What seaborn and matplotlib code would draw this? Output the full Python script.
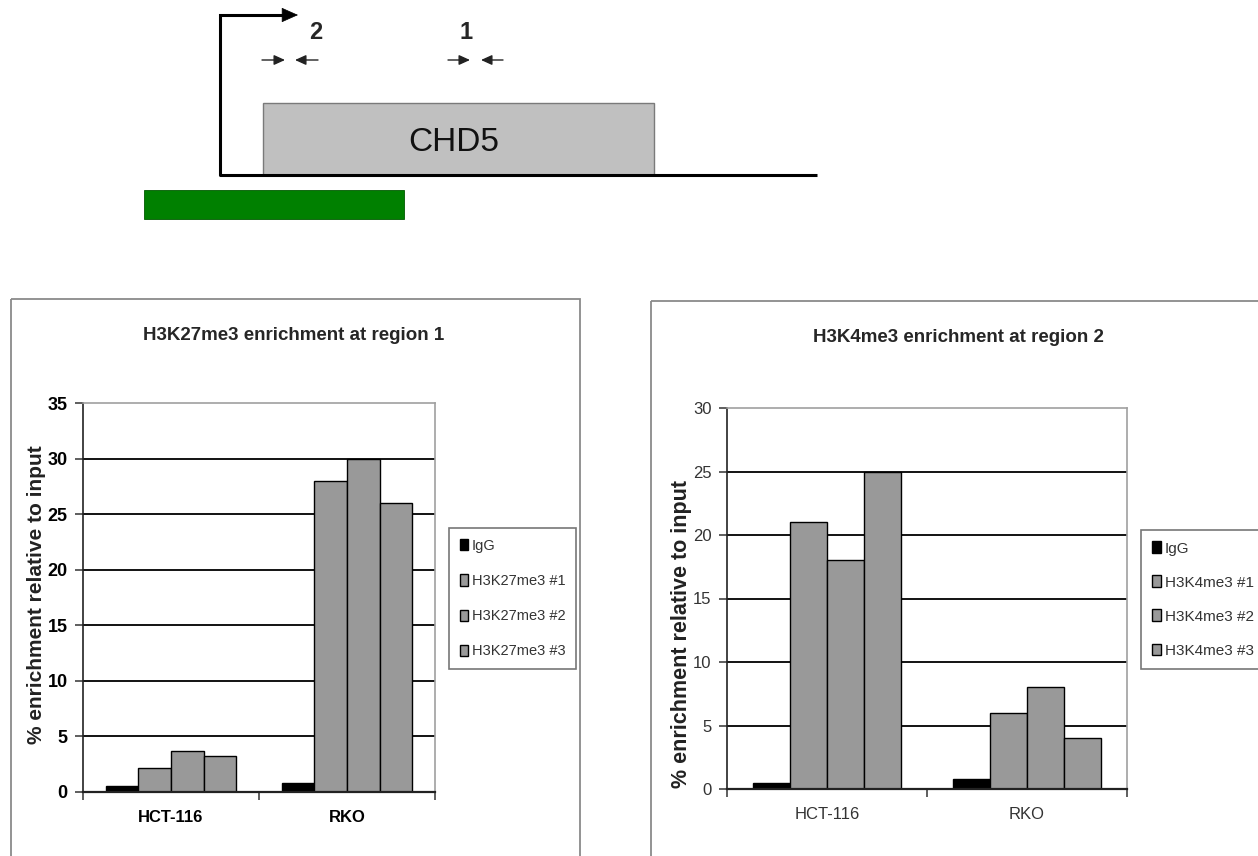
import numpy as np
import pandas as pd
import matplotlib
matplotlib.use("Agg")
import matplotlib.pyplot as plt
import seaborn as sns
from matplotlib.patches import Rectangle

# ---------------- data ----------------
cell_lines = ["HCT-116", "RKO"]

k27_series = ["IgG", "H3K27me3 #1", "H3K27me3 #2", "H3K27me3 #3"]
k27_hct116 = [0.5, 2.2, 3.7, 3.2]
k27_rko = [0.8, 28.0, 30.0, 26.0]
k27_ticks = [0, 5, 10, 15, 20, 25, 30, 35]

k4_series = ["IgG", "H3K4me3 #1", "H3K4me3 #2", "H3K4me3 #3"]
k4_hct116 = [0.45, 21.0, 18.0, 25.0]
k4_rko = [0.8, 6.0, 8.0, 4.0]
k4_ticks = [0, 5, 10, 15, 20, 25, 30]

W, H = 1258, 856

sns.set_theme(style="white")
plt.rcParams["font.family"] = ["Liberation Sans", "DejaVu Sans"]

fig = plt.figure(figsize=(W / 100, H / 100), dpi=100)
fig.patch.set_facecolor("white")

# overlay in pixel coordinates for the gene diagram and panel frames
ov = fig.add_axes([0, 0, 1, 1], zorder=0)
ov.set_xlim(0, W)
ov.set_ylim(H, 0)
ov.axis("off")

# panel frames
ov.add_patch(Rectangle((11, 299), 569, 570, fill=False, ec="#8a8a8a", lw=1.3))
ov.add_patch(Rectangle((651, 301), 620, 570, fill=False, ec="#8a8a8a", lw=1.3))

# gene diagram
ov.add_patch(Rectangle((144, 190), 260, 29, fc="#008000", ec="#005a00", lw=0.6))
ov.add_patch(Rectangle((263, 103), 391, 72, fc="#c0c0c0", ec="#7a7a7a", lw=1.0))
ov.plot([220, 817], [175, 175], color="black", lw=2.2, solid_capstyle="butt")
ov.plot([220, 220, 285], [175, 15, 15], color="black", lw=2.2, solid_joinstyle="miter")
ov.annotate("", xy=(298, 15), xytext=(280, 15),
            arrowprops=dict(arrowstyle="-|>,head_length=0.9,head_width=0.4",
                            color="black", lw=0.5, shrinkA=0, shrinkB=0))
t = ov.text(454, 142, "CHD5", ha="center", va="center", fontsize=24, color="#111111")
ov.text(316, 32, "2", ha="center", va="center", fontsize=17, fontweight="bold")
ov.text(466, 32, "1", ha="center", va="center", fontsize=17, fontweight="bold")
for (x0, x1) in [(262, 285), (318, 295), (448, 470), (503, 481)]:
    ov.annotate("", xy=(x1, 60), xytext=(x0, 60),
                arrowprops=dict(arrowstyle="-|>,head_length=0.55,head_width=0.25",
                                color="#222222", lw=1.0, shrinkA=0, shrinkB=0))


def make_df(series, hct, rko):
    rows = []
    for s, v in zip(series, hct):
        rows.append({"line": cell_lines[0], "series": s, "value": v})
    for s, v in zip(series, rko):
        rows.append({"line": cell_lines[1], "series": s, "value": v})
    return pd.DataFrame(rows)


def draw_panel(rect, df, series, ticks, title, bold_ticks, ylab_size, ylab_y,
               tick_size, leg_anchor, leg_font, leg_spacing, title_xy, ylabel_x):
    ax = fig.add_axes(rect, zorder=2)
    pal = {s: ("black" if s == "IgG" else "#999999") for s in series}
    sns.barplot(data=df, x="line", y="value", hue="series", hue_order=series,
                order=cell_lines, palette=pal, width=0.74, ax=ax,
                edgecolor="black", linewidth=1.0, saturation=1, errorbar=None)
    ax.set_xlim(-0.5, 1.5)
    ax.set_ylim(0, ticks[-1])
    ax.set_yticks(ticks)
    for tv in ticks[1:-1]:
        ax.axhline(tv, color="black", lw=1.3, zorder=0.5)
    ax.set_axisbelow(True)
    for side in ["top", "right"]:
        ax.spines[side].set_visible(True)
        ax.spines[side].set_color("#a0a0a0")
        ax.spines[side].set_linewidth(1.2)
    ax.spines["left"].set_color("#222222")
    ax.spines["bottom"].set_color("#222222")
    ax.spines["left"].set_linewidth(1.2)
    ax.spines["bottom"].set_linewidth(1.6)
    ax.set_xticks([0, 1])
    ax.set_xticks([-0.5, 0.5, 1.5], minor=True)
    ax.tick_params(axis="x", which="major", length=0, pad=13)
    ax.tick_params(axis="x", which="minor", length=6, width=1.1, color="#333333",
                   direction="out", bottom=True)
    ax.tick_params(axis="y", length=6, width=1.1, color="#333333",
                   direction="out", left=True, pad=5)
    fw = "bold" if bold_ticks else "normal"
    col = "black" if bold_ticks else "#333333"
    ax.set_xticklabels(cell_lines, fontsize=12, fontweight=fw, color=col)
    for lab in ax.get_yticklabels():
        lab.set_fontsize(tick_size)
        lab.set_fontweight(fw)
        lab.set_color(col)
    ax.set_xlabel("")
    ax.set_ylabel("")
    fig.text(title_xy[0] / W, 1 - title_xy[1] / H, title, ha="center",
             va="center", fontsize=13.5, fontweight="bold")
    fig.text(ylabel_x / W, 1 - ylab_y / H, "% enrichment relative to input",
             rotation=90, ha="center", va="center", fontsize=ylab_size,
             fontweight="bold", color="#222222")
    handles, labels = ax.get_legend_handles_labels()
    if ax.get_legend() is not None:
        ax.get_legend().remove()
    leg = fig.legend(handles, labels, loc="upper left",
                     bbox_to_anchor=(leg_anchor[0] / W, 1 - leg_anchor[1] / H),
                     frameon=True, fancybox=False, edgecolor="#555555",
                     fontsize=leg_font, handlelength=0.55, handleheight=0.8,
                     handletextpad=0.25, labelspacing=leg_spacing,
                     borderpad=0.75, borderaxespad=0)
    leg.get_frame().set_linewidth(1.2)
    for tx in leg.get_texts():
        tx.set_color("#333333")
    return ax


df27 = make_df(k27_series, k27_hct116, k27_rko)
df4 = make_df(k4_series, k4_hct116, k4_rko)

draw_panel([83 / W, (H - 792) / H, (435 - 83) / W, (792 - 403) / H],
           df27, k27_series, k27_ticks, "H3K27me3 enrichment at region 1",
           True, 15, 595, 13, (449, 528), 10.5, 1.45, (294, 336), 37)

draw_panel([727 / W, (H - 789) / H, (1127 - 727) / W, (789 - 408) / H],
           df4, k4_series, k4_ticks, "H3K4me3 enrichment at region 2",
           False, 15.5, 634, 12, (1141, 530), 11, 1.3, (958, 337), 681)

fig.savefig("out.png", dpi=100, facecolor="white")
